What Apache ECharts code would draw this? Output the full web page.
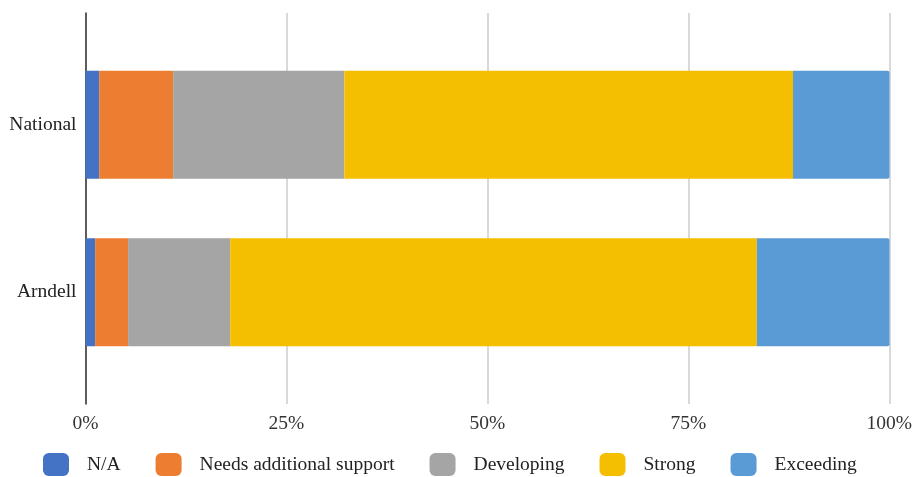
<!DOCTYPE html>
<html>
<head>
<meta charset="utf-8">
<script src="https://cdn.jsdelivr.net/npm/echarts@6/dist/echarts.min.js"></script>
<style>
  html, body { margin: 0; padding: 0; background: #ffffff; }
  #chart { width: 915px; height: 477px; }
</style>
</head>
<body>
<div id="chart"></div>
<script>
// Share of students in each rating band (percent of total)
const categories = ['National', 'Arndell'];
const seriesNames = ['N/A', 'Needs additional support', 'Developing', 'Strong', 'Exceeding'];
const naValues = [1.7, 1.2];
const needsValues = [9.2, 4.1];
const developingValues = [21.3, 12.7];
const strongValues = [55.8, 65.5];
const exceedingValues = [12.0, 16.5];
const xTicks = [0, 25, 50, 75, 100];

const colors = ['#4472c4', '#ed7d31', '#a5a5a5', '#f4bf00', '#5b9bd5'];
const allValues = [naValues, needsValues, developingValues, strongValues, exceedingValues];

const font = '"Liberation Serif", "DejaVu Serif", serif';
const fontSize = 19.5;

const series = seriesNames.map((name, i) => ({
  name: name,
  type: 'bar',
  stack: 'total',
  xAxisIndex: 1,
  yAxisIndex: 1,
  barWidth: 108,
  data: allValues[i],
  itemStyle: {
    color: colors[i],
    borderRadius: i === seriesNames.length - 1 ? [0, 2, 2, 0] : 0
  },
  emphasis: { disabled: true }
}));

const chart = echarts.init(document.getElementById('chart'), null, { renderer: 'canvas' });
chart.setOption({
  animation: false,
  textStyle: { fontFamily: font },
  // outer grid carries the gridlines, the baseline and the percent labels;
  // the inner grid holds the two category bands
  grid: [
    { left: 85.5, right: 25.5, top: 13, bottom: 73 },
    { left: 85.5, right: 25.5, top: 41, bottom: 101 }
  ],
  xAxis: [
    {
      gridIndex: 0,
      type: 'value',
      min: xTicks[0],
      max: xTicks[xTicks.length - 1],
      interval: 25,
      axisLine: { show: false },
      axisTick: { show: false },
      splitLine: { show: true, lineStyle: { color: '#d9d9d9', width: 2 } },
      axisLabel: {
        color: '#333333',
        fontFamily: font,
        fontSize: fontSize,
        margin: 10,
        formatter: v => v + '%'
      }
    },
    {
      gridIndex: 1,
      type: 'value',
      min: xTicks[0],
      max: xTicks[xTicks.length - 1],
      show: false
    }
  ],
  yAxis: [
    {
      gridIndex: 0,
      type: 'value',
      min: 0,
      max: 1,
      axisLine: { show: true, lineStyle: { color: '#333333', width: 1.5 } },
      axisTick: { show: false },
      axisLabel: { show: false },
      splitLine: { show: false }
    },
    {
      gridIndex: 1,
      type: 'category',
      data: categories,
      inverse: true,
      axisLine: { show: false },
      axisTick: { show: false },
      axisLabel: { color: '#222222', fontFamily: font, fontSize: fontSize, margin: 9 }
    }
  ],
  legend: {
    data: seriesNames,
    left: 43,
    top: 453,
    padding: 0,
    itemWidth: 26,
    itemHeight: 23,
    itemGap: 35,
    icon: 'roundRect',
    textStyle: { color: '#222222', fontFamily: font, fontSize: fontSize, padding: [0, 0, 0, 13] }
  },
  series: series
});
</script>
</body>
</html>
